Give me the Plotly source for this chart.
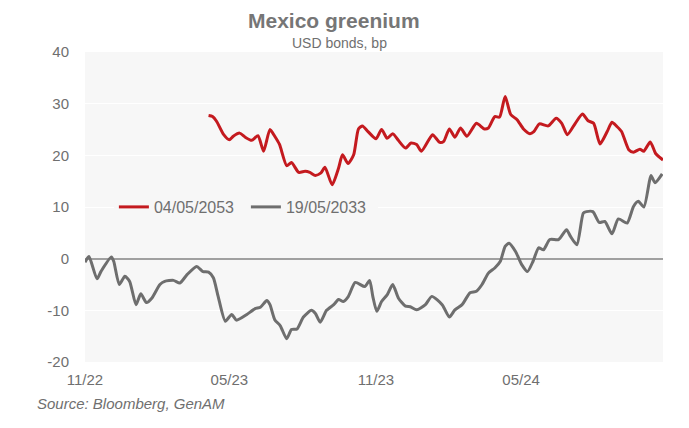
import plotly.graph_objects as go

# Mexico sovereign USD bonds: green minus conventional spread, in bp
dates_2033 = [
    "2022-11-01", "2022-11-06", "2022-11-16", "2022-11-21", "2022-12-04", "2022-12-07",
    "2022-12-14", "2022-12-21", "2022-12-27", "2023-01-04", "2023-01-10", "2023-01-17",
    "2023-01-24", "2023-02-03", "2023-02-09", "2023-02-20", "2023-02-28", "2023-03-09",
    "2023-03-21", "2023-03-29", "2023-04-05", "2023-04-11", "2023-04-17", "2023-04-26",
    "2023-05-04", "2023-05-10", "2023-05-23", "2023-06-02", "2023-06-09", "2023-06-17",
    "2023-06-21", "2023-06-27", "2023-07-04", "2023-07-12", "2023-07-18", "2023-07-25",
    "2023-08-02", "2023-08-12", "2023-08-17", "2023-08-23", "2023-08-31", "2023-09-09",
    "2023-09-15", "2023-09-21", "2023-09-27", "2023-10-06", "2023-10-18", "2023-10-24",
    "2023-10-28", "2023-11-02", "2023-11-08", "2023-11-15", "2023-11-22", "2023-11-29",
    "2023-12-08", "2023-12-14", "2023-12-22", "2024-01-02", "2024-01-10", "2024-01-23",
    "2024-02-01", "2024-02-08", "2024-02-17", "2024-02-27", "2024-03-06", "2024-03-13",
    "2024-03-21", "2024-03-29", "2024-04-05", "2024-04-11", "2024-04-16", "2024-04-24",
    "2024-05-02", "2024-05-09", "2024-05-16", "2024-05-23", "2024-05-29", "2024-06-06",
    "2024-06-17", "2024-06-27", "2024-07-02", "2024-07-10", "2024-07-18", "2024-07-22",
    "2024-07-30", "2024-08-07", "2024-08-14", "2024-08-23", "2024-08-31", "2024-09-11",
    "2024-09-19", "2024-09-25", "2024-10-02", "2024-10-09", "2024-10-11", "2024-10-16",
    "2024-10-25",
]
values_2033 = [
    -0.7, 0.4, -3.9, -2.5, 0.3, -0.5,
    -5.0, -3.4, -4.4, -8.9, -6.8, -8.5,
    -7.6, -5.0, -4.4, -4.2, -4.7, -3.1,
    -1.5, -2.5, -2.6, -3.7, -7.3, -12.1,
    -10.8, -11.9, -10.8, -9.7, -9.4, -8.1,
    -8.9, -11.8, -13.0, -15.5, -13.7, -13.6,
    -11.3, -10.0, -10.6, -12.3, -10.0, -8.9,
    -7.9, -8.3, -7.4, -4.6, -5.4, -4.2,
    -7.3, -10.2, -8.3, -7.0, -5.0, -7.6,
    -9.2, -9.3, -9.9, -8.9, -7.3, -8.9,
    -11.3, -9.9, -8.9, -6.6, -6.3, -5.0,
    -2.8, -1.8, -0.5, 2.4, 3.0, 1.4,
    -1.2, -2.5, -0.5, 2.1, 1.7, 3.7,
    3.7, 5.6, 4.3, 2.7, 8.8, 9.1,
    9.1, 7.0, 7.2, 4.8, 7.7, 6.9,
    10.1, 11.1, 10.0, 15.0, 16.1, 14.7,
    16.4,
]

dates_2053 = [
    "2023-04-05", "2023-04-10", "2023-04-15", "2023-04-24", "2023-05-01", "2023-05-06",
    "2023-05-14", "2023-05-21", "2023-05-29", "2023-06-06", "2023-06-13", "2023-06-21",
    "2023-06-27", "2023-07-03", "2023-07-12", "2023-07-18", "2023-07-27", "2023-08-04",
    "2023-08-10", "2023-08-17", "2023-08-24", "2023-08-29", "2023-09-07", "2023-09-15",
    "2023-09-20", "2023-09-27", "2023-10-04", "2023-10-10", "2023-10-15", "2023-10-22",
    "2023-11-01", "2023-11-08", "2023-11-15", "2023-11-22", "2023-11-29", "2023-12-08",
    "2023-12-15", "2023-12-22", "2023-12-28", "2024-01-07", "2024-01-11", "2024-01-20",
    "2024-01-25", "2024-02-01", "2024-02-08", "2024-02-15", "2024-02-23", "2024-03-06",
    "2024-03-16", "2024-03-21", "2024-03-29", "2024-04-04", "2024-04-11", "2024-04-18",
    "2024-04-26", "2024-05-04", "2024-05-12", "2024-05-17", "2024-05-24", "2024-06-04",
    "2024-06-14", "2024-06-21", "2024-06-28", "2024-07-08", "2024-07-17", "2024-07-24",
    "2024-07-31", "2024-08-08", "2024-08-17", "2024-08-23", "2024-08-29", "2024-09-04",
    "2024-09-13", "2024-09-19", "2024-09-27", "2024-10-02", "2024-10-10", "2024-10-17",
    "2024-10-26",
]
values_2053 = [
    27.7, 27.5, 26.6, 24.0, 23.0, 23.7,
    24.3, 23.5, 22.9, 23.8, 20.8, 25.0,
    23.7, 22.1, 18.0, 18.6, 16.7, 16.9,
    16.7, 16.1, 16.6, 17.7, 14.3, 17.5,
    20.1, 18.4, 20.1, 25.1, 25.7, 24.6,
    23.2, 25.0, 23.3, 24.2, 22.9, 21.4,
    22.4, 22.1, 20.8, 23.2, 24.0, 22.5,
    22.7, 25.1, 23.5, 25.3, 23.7, 26.2,
    25.1, 25.3, 27.5, 27.4, 31.4, 27.9,
    26.9, 25.1, 24.2, 24.6, 26.1, 25.7,
    27.2, 26.2, 24.0, 26.2, 28.0, 26.7,
    26.2, 22.2, 24.6, 26.4, 25.6, 24.6,
    21.1, 20.6, 21.2, 20.8, 22.6, 20.3,
    19.1,
]

x_ticks = ["2022-11-01", "2023-05-01", "2023-11-01", "2024-05-01"]
x_tick_labels = ["11/22", "05/23", "11/23", "05/24"]
y_ticks = [-20, -10, 0, 10, 20, 30, 40]
y_tick_labels = ["-20", "-10", "0", "10", "20", "30", "40"]

FONT = "Liberation Sans, Arial, sans-serif"
TEXT_GREY = "#6f6f6f"
PLOT_BG = "#f7f7f7"

fig = go.Figure()
fig.add_trace(go.Scatter(
    x=dates_2053, y=values_2053, name="04/05/2053", mode="lines",
    line=dict(color="#c41a1f", width=3, shape="spline", smoothing=0.6),
))
fig.add_trace(go.Scatter(
    x=dates_2033, y=values_2033, name="19/05/2033", mode="lines",
    line=dict(color="#6e6e6e", width=3, shape="spline", smoothing=0.6),
))

fig.update_layout(
    width=689, height=428,
    margin=dict(l=85, r=26, t=52, b=66),
    paper_bgcolor="white",
    plot_bgcolor=PLOT_BG,
    font=dict(family=FONT, color=TEXT_GREY, size=14),
    showlegend=True,
    legend=dict(
        orientation="h", x=0.05, y=0.5, xanchor="left", yanchor="middle",
        bgcolor=PLOT_BG, font=dict(size=16, color=TEXT_GREY),
        itemwidth=30, entrywidth=87, entrywidthmode="pixels",
    ),
    xaxis=dict(
        type="date", range=["2022-11-01", "2024-10-26"],
        tickvals=x_ticks, ticktext=x_tick_labels,
        showgrid=False, zeroline=False, showline=False,
        ticks="outside", ticklen=4, tickcolor="rgba(0,0,0,0)",
        tickfont=dict(size=15, color=TEXT_GREY),
    ),
    yaxis=dict(
        range=[-20, 40], tickvals=y_ticks, ticktext=y_tick_labels,
        showgrid=True, gridcolor="white", gridwidth=1,
        zeroline=True, zerolinecolor="#a0a0a0", zerolinewidth=1.5,
        showline=False,
        ticks="outside", ticklen=12, tickcolor="rgba(0,0,0,0)",
        tickfont=dict(size=15, color=TEXT_GREY),
    ),
    annotations=[
        dict(text="<b>Mexico greenium</b>", xref="paper", yref="paper",
             x=0.43, y=1.0, yshift=45, showarrow=False,
             font=dict(size=21, color="#767676", family=FONT)),
        dict(text="USD bonds, bp", xref="paper", yref="paper",
             x=0.44, y=1.0, yshift=19, showarrow=False,
             font=dict(size=14, color=TEXT_GREY, family=FONT)),
        dict(text="<i>Source: Bloomberg, GenAM</i>", xref="paper", yref="paper",
             x=0, y=0, xshift=-50, yshift=-52, xanchor="left", showarrow=False,
             font=dict(size=15, color=TEXT_GREY, family=FONT)),
    ],
)

fig.write_html("out.html")
